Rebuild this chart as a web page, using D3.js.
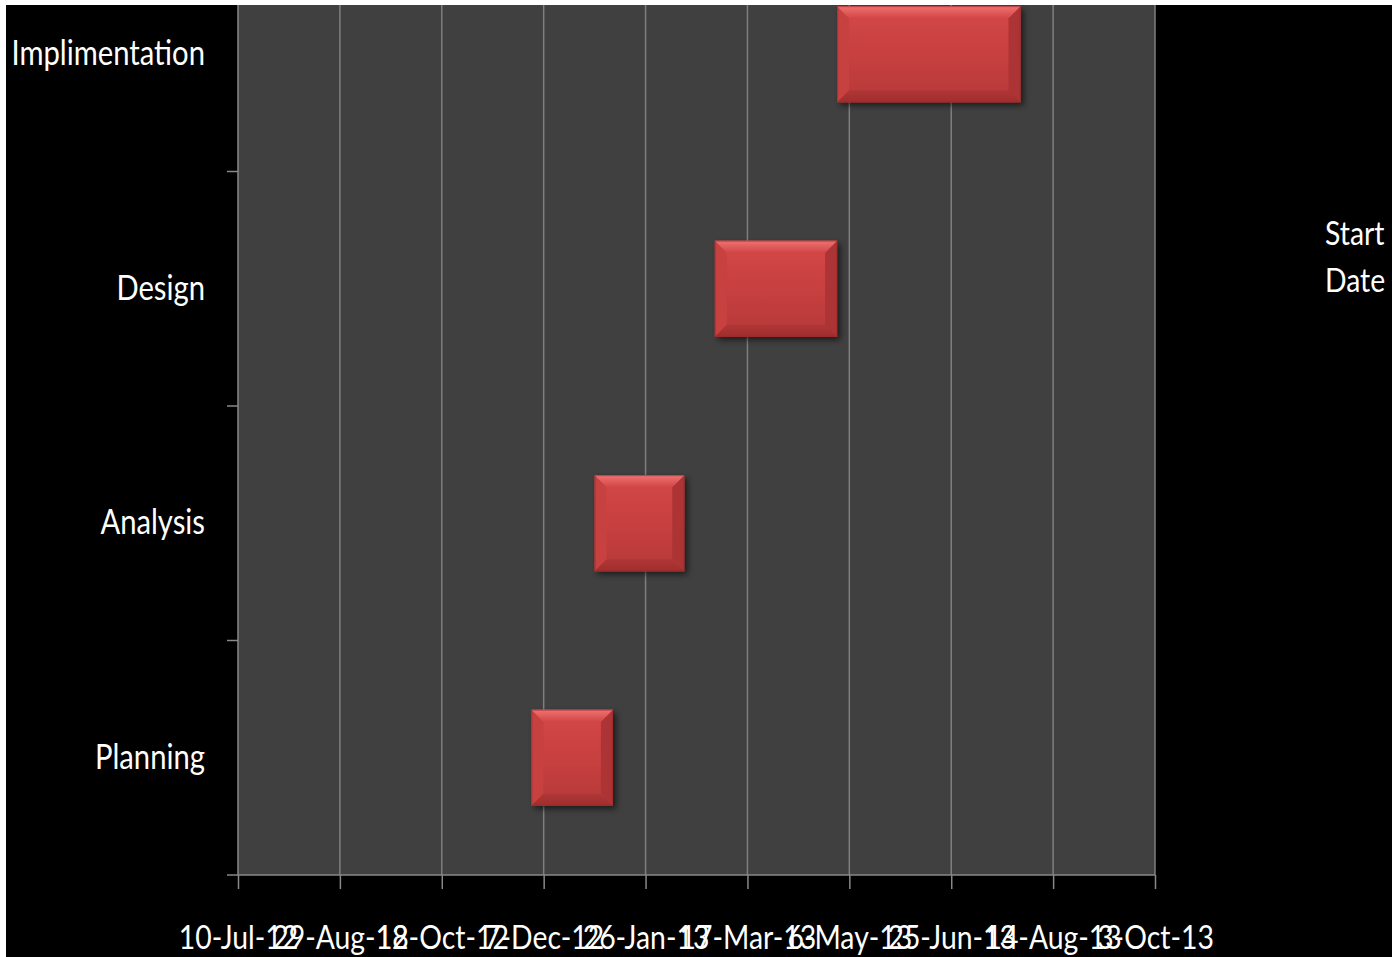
<!DOCTYPE html>
<html>
<head>
<meta charset="utf-8">
<script src="https://cdn.jsdelivr.net/npm/d3@7"></script>
<style>
  html, body { margin: 0; padding: 0; background: #ffffff; }
  svg { display: block; }
</style>
</head>
<body>
<svg id="chart" width="1392" height="957"></svg>
<script>
// ---- data ----
const categories = ["Planning", "Analysis", "Design", "Implimentation"];
const startDates = ["1-Dec-12", "1-Jan-13", "1-Mar-13", "30-Apr-13"];
const durations = [40, 44, 60, 90];
const tickLabels = ["10-Jul-12", "29-Aug-12", "18-Oct-12", "7-Dec-12", "26-Jan-13",
                    "17-Mar-13", "6-May-13", "25-Jun-13", "14-Aug-13", "3-Oct-13"];
const legendLabel = ["Start", "Date"];

const parse = d3.utcParse("%d-%b-%y");
const tickDates = tickLabels.map(parse);
const tasks = categories.map((c, i) => {
  const s = parse(startDates[i]);
  return { name: c, start: s, end: d3.utcDay.offset(s, durations[i]) };
});

const svg = d3.select("#chart");
const W = 1392, H = 957;
const FONT = "Lato, 'Open Sans', sans-serif";
const SX = 0.86;

// layout
const plot = { left: 238, right: 1155, bottom: 875, band: 234.5 };
plot.top = plot.bottom - plot.band * categories.length;

// black background
svg.append("rect").attr("x", 0).attr("y", 0).attr("width", W).attr("height", H).attr("fill", "#000");

const x = d3.scaleUtc()
  .domain([tickDates[0], tickDates[tickDates.length - 1]])
  .range([plot.left, plot.right]);

const y = d3.scaleBand()
  .domain(categories)
  .range([plot.bottom, plot.top])
  .paddingInner(0.59)
  .paddingOuter(0.295);

// defs
const defs = svg.append("defs");
const f = defs.append("filter").attr("id", "shadow")
  .attr("x", "-10%").attr("y", "-10%").attr("width", "130%").attr("height", "130%");
f.append("feDropShadow").attr("dx", 3).attr("dy", 3).attr("stdDeviation", 3)
  .attr("flood-color", "#000").attr("flood-opacity", 0.6);

const g1 = defs.append("linearGradient").attr("id", "barFill").attr("x1", 0).attr("y1", 0).attr("x2", 0).attr("y2", 1);
g1.append("stop").attr("offset", "0%").attr("stop-color", "#d44747");
g1.append("stop").attr("offset", "50%").attr("stop-color", "#c84040");
g1.append("stop").attr("offset", "100%").attr("stop-color", "#b53838");

const gTop = defs.append("linearGradient").attr("id", "bevTop").attr("x1", 0).attr("y1", 0).attr("x2", 0).attr("y2", 1);
gTop.append("stop").attr("offset", "0%").attr("stop-color", "#f07272");
gTop.append("stop").attr("offset", "100%").attr("stop-color", "#d24646");

const gBot = defs.append("linearGradient").attr("id", "bevBot").attr("x1", 0).attr("y1", 0).attr("x2", 0).attr("y2", 1);
gBot.append("stop").attr("offset", "0%").attr("stop-color", "#b03636");
gBot.append("stop").attr("offset", "100%").attr("stop-color", "#a02d2d");

// plot area
svg.append("rect")
  .attr("x", plot.left).attr("y", plot.top)
  .attr("width", plot.right - plot.left).attr("height", plot.bottom - plot.top)
  .attr("fill", "#404040");

// vertical gridlines
svg.append("g").selectAll("line").data(tickDates.slice(1)).join("line")
  .attr("x1", d => x(d)).attr("x2", d => x(d))
  .attr("y1", plot.top).attr("y2", plot.bottom)
  .attr("stroke", "#7f7f7f").attr("stroke-width", 1.5);

// bars
const bars = svg.append("g").selectAll("g").data(tasks).join("g");
bars.each(function(d) {
  const g = d3.select(this);
  const x0 = x(d.start), x1 = x(d.end);
  const y0 = y(d.name), h = y.bandwidth();
  const w = x1 - x0, b = 12;
  g.append("rect").attr("x", x0).attr("y", y0).attr("width", w).attr("height", h)
    .attr("fill", "url(#barFill)").attr("filter", "url(#shadow)");
  // left bevel
  g.append("path").attr("d", `M${x0},${y0} L${x0 + b},${y0 + b} L${x0 + b},${y0 + h - b} L${x0},${y0 + h} Z`)
    .attr("fill", "#c84141");
  // right bevel
  g.append("path").attr("d", `M${x1},${y0} L${x1 - b},${y0 + b} L${x1 - b},${y0 + h - b} L${x1},${y0 + h} Z`)
    .attr("fill", "#ad3434");
  // top bevel
  g.append("path").attr("d", `M${x0},${y0} L${x1},${y0} L${x1 - b},${y0 + b} L${x0 + b},${y0 + b} Z`)
    .attr("fill", "url(#bevTop)");
  // bottom bevel
  g.append("path").attr("d", `M${x0},${y0 + h} L${x1},${y0 + h} L${x1 - b},${y0 + h - b} L${x0 + b},${y0 + h - b} Z`)
    .attr("fill", "url(#bevBot)");
  // thin outline
  g.append("rect").attr("x", x0 + 0.5).attr("y", y0 + 0.5).attr("width", w - 1).attr("height", h - 1)
    .attr("fill", "none").attr("stroke", "#9a2a2a").attr("stroke-opacity", 0.6).attr("stroke-width", 1);
});

// x axis
const xAxis = d3.axisBottom(x).tickValues(tickDates).tickSize(14).tickFormat((d, i) => tickLabels[i]);
const gx = svg.append("g").attr("transform", `translate(0,${plot.bottom})`).call(xAxis);
gx.select(".domain").remove();
gx.append("line").attr("x1", plot.left - 11).attr("x2", plot.right).attr("y1", 0).attr("y2", 0)
  .attr("stroke", "#888").attr("stroke-width", 1.5);
gx.selectAll(".tick line").attr("stroke", "#888").attr("stroke-width", 1.5);
gx.selectAll(".tick text")
  .attr("fill", "#fff").attr("font-family", FONT).attr("font-size", 33)
  .attr("y", 0).attr("dy", 0)
  .attr("transform", `translate(0,74) scale(${SX},1)`);

// y axis (category)
const boundaries = d3.range(categories.length + 1).map(i => plot.bottom - i * plot.band);
svg.append("line").attr("x1", plot.left).attr("x2", plot.left).attr("y1", plot.top).attr("y2", plot.bottom)
  .attr("stroke", "#888").attr("stroke-width", 1.5);
svg.append("g").selectAll("line").data(boundaries.slice(1)).join("line")
  .attr("x1", plot.left - 11).attr("x2", plot.left)
  .attr("y1", d => d).attr("y2", d => d)
  .attr("stroke", "#888").attr("stroke-width", 1.5);

svg.append("g").selectAll("text").data(categories).join("text")
  .attr("transform", d => `translate(205,${y(d) + y.bandwidth() / 2 + 11}) scale(${SX},1)`)
  .attr("text-anchor", "end")
  .attr("fill", "#fff").attr("font-family", FONT).attr("font-size", 34)
  .text(d => d);

// legend
svg.append("g").selectAll("text").data(legendLabel).join("text")
  .attr("transform", (d, i) => `translate(1325,${245 + i * 47}) scale(${SX},1)`)
  .attr("fill", "#fff").attr("font-family", FONT).attr("font-size", 33)
  .text(d => d);

// white frame on top and left edges
svg.append("rect").attr("x", 0).attr("y", 0).attr("width", W).attr("height", 5).attr("fill", "#fff");
svg.append("rect").attr("x", 0).attr("y", 0).attr("width", 6).attr("height", H).attr("fill", "#fff");
</script>
</body>
</html>
